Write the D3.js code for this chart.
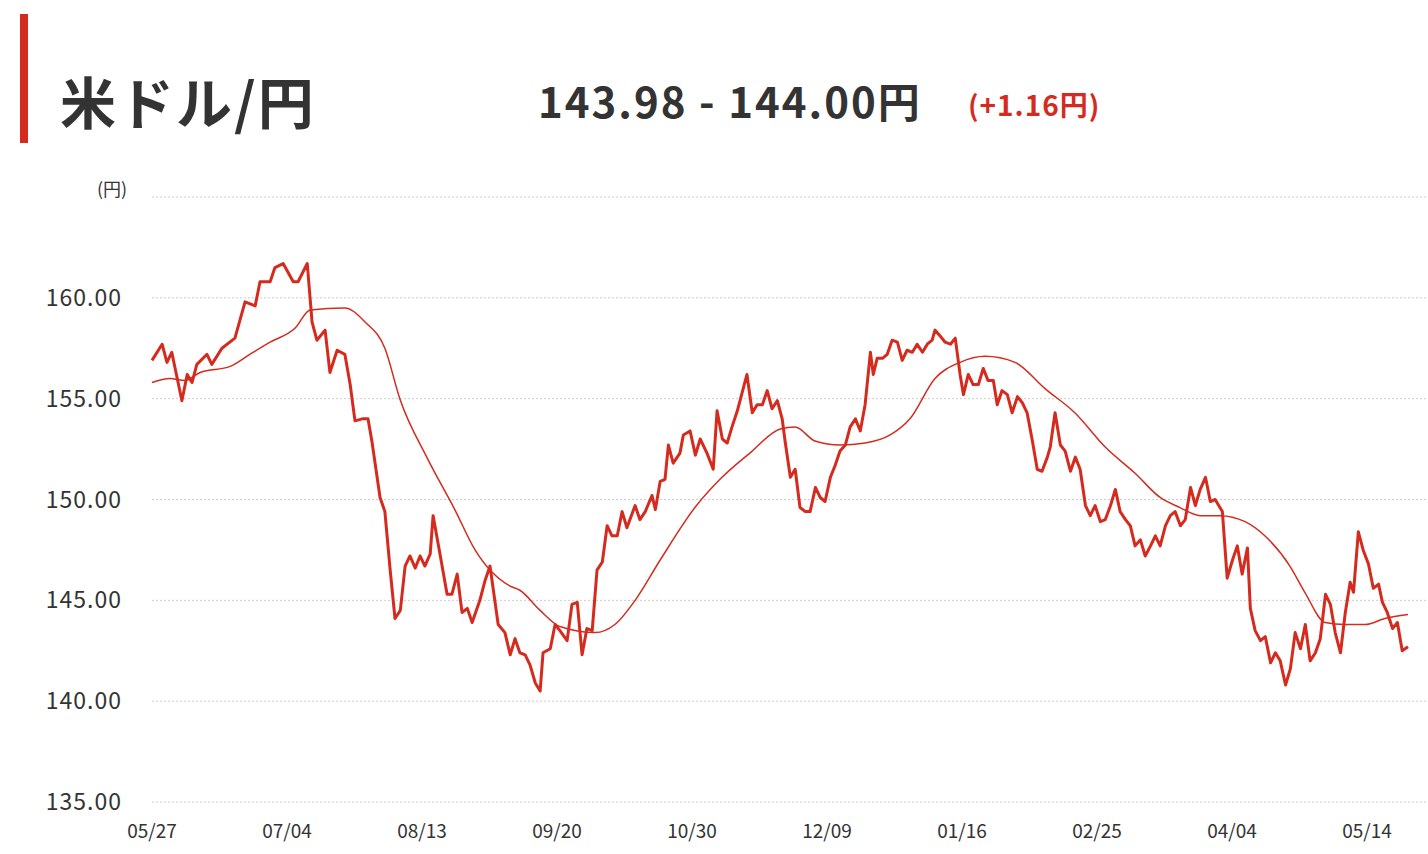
<!DOCTYPE html>
<html><head><meta charset="utf-8">
<script src="https://cdn.jsdelivr.net/npm/d3@7"></script>
<style>
body{margin:0;background:#fff;font-family:"Noto Sans CJK JP","Noto Sans",sans-serif;}
</style></head>
<body><div id="chart"></div>
<script>
// daily close: trading day position and value
const closeDays = [0,2.1,3.1,4.1,6.2,7.3,8.3,9.3,11.4,12.4,14.5,17.2,19.3,21.4,22.4,24.5,25.5,27.2,29.3,30.3,32.2,33.2,34.2,35.9,36.9,38.4,40.0,41.1,42.1,43.6,44.8,45.6,47.3,48.3,49.4,50.4,51.5,52.5,53.5,54.6,55.6,56.6,57.7,58.3,59.8,61.2,62.2,63.3,64.3,65.4,66.4,68.0,69.1,70.1,71.8,73.2,74.3,75.3,76.3,77.4,78.4,79.5,80.5,81.1,82.6,83.6,84.6,86.1,87.1,88.2,89.2,90.2,91.3,92.3,93.4,94.4,95.4,96.5,97.5,98.5,100.2,101.2,102.3,103.7,104.4,105.4,106.4,107.1,108.1,109.5,110.2,111.6,112.7,113.7,115.1,116.4,117.2,118.3,119.3,120.3,121.4,122.4,123.4,124.5,125.5,126.6,127.6,128.6,129.7,130.7,131.3,132.4,133.4,134.4,135.5,136.5,137.6,138.6,139.6,140.7,141.7,142.7,143.8,144.8,145.9,146.9,147.9,149.0,149.6,150.4,151.5,152.5,153.5,154.6,155.6,156.6,157.7,158.7,159.8,160.8,161.8,162.4,163.5,164.5,165.6,166.6,167.6,168.3,169.3,170.3,171.4,172.4,173.4,174.5,175.3,176.3,177.4,178.4,179.5,180.5,181.5,182.6,183.6,184.6,185.7,186.3,187.3,188.4,189.4,190.5,191.5,192.5,193.6,194.6,195.6,196.7,197.7,198.8,199.8,200.8,201.9,202.9,203.9,205.0,206.0,207.1,208.1,209.1,210.2,211.2,212.2,213.3,214.3,215.4,216.4,217.4,218.5,219.5,220.5,222.0,223.0,224.1,225.1,226.1,227.2,227.8,228.8,229.9,230.9,232.0,233.0,234.0,235.1,236.1,237.1,238.2,239.2,240.2,241.3,242.3,243.4,244.4,245.4,246.5,247.5,248.5,249.2,250.2,251.2,252.3,253.3,254.4,255.2,256.2,257.3,258.3,259.3,260.5];
const closes = [156.9,157.7,156.8,157.3,154.9,156.2,155.8,156.7,157.2,156.7,157.5,158.0,159.8,159.6,160.8,160.8,161.5,161.7,160.8,160.8,161.7,158.8,157.9,158.4,156.3,157.4,157.2,155.7,153.9,154.0,154.0,152.9,150.1,149.4,146.5,144.1,144.5,146.7,147.2,146.6,147.2,146.7,147.3,149.2,147.2,145.3,145.3,146.3,144.4,144.6,143.9,145.0,146.0,146.7,143.8,143.4,142.3,143.1,142.4,142.3,141.8,140.9,140.5,142.4,142.6,143.8,143.5,143.0,144.8,144.9,142.3,143.6,143.5,146.5,146.9,148.7,148.2,148.2,149.4,148.6,149.7,149.0,149.4,150.2,149.5,150.9,151.0,152.7,151.8,152.3,153.2,153.4,152.2,153.0,152.3,151.5,154.4,153.0,152.8,153.6,154.4,155.3,156.2,154.3,154.7,154.7,155.4,154.5,154.9,154.0,152.9,151.1,151.5,149.6,149.4,149.4,150.6,150.1,149.9,151.1,151.7,152.4,152.7,153.6,154.0,153.4,154.7,157.3,156.2,157.0,157.0,157.2,157.9,157.8,156.9,157.4,157.3,157.7,157.3,157.7,157.9,158.4,158.1,157.8,157.7,158.0,156.2,155.2,156.2,155.7,155.7,156.5,155.9,155.9,154.7,155.4,155.2,154.3,155.1,154.8,154.3,152.9,151.5,151.4,152.1,152.6,154.3,152.7,152.4,151.4,152.1,151.5,149.7,149.2,149.7,148.9,149.0,149.7,150.5,149.4,149.0,148.7,147.7,148.0,147.2,147.7,148.2,147.7,148.7,149.2,149.4,148.7,149.0,150.6,149.7,150.5,151.1,149.9,150.0,149.4,146.1,147.0,147.7,146.3,147.6,144.6,143.5,143.0,143.2,141.9,142.4,142.0,140.8,141.6,143.4,142.6,143.8,142.0,142.4,143.1,145.3,144.8,143.4,142.4,144.4,145.9,145.4,148.4,147.5,146.8,145.6,145.8,144.9,144.4,143.6,143.9,142.5,142.7];
// moving average: trading day position and value
const maDays = [0,3.7,6.8,10,16.2,20.3,24.5,29.7,32.8,40,44.2,48.3,51.4,57.2,62.8,67,74.3,76.3,80.5,84.6,91.9,96,100.2,105.4,112.6,117.8,124,130.3,133.4,137.5,142.7,147.9,153.1,157.2,162.4,167.6,172.8,179,185.2,191.4,197.7,203.9,209.1,213.2,217.4,221.5,226.7,230.8,236,239.1,243.3,247.4,251.6,255.7,260.5];
const maVals = [155.8,156.0,155.9,156.3,156.6,157.2,157.8,158.5,159.4,159.5,158.8,157.5,155.0,152.0,149.5,147.5,145.7,145.5,144.5,143.7,143.4,143.8,145.0,147.0,149.6,151.0,152.3,153.5,153.6,152.9,152.7,152.8,153.2,154.0,156.0,156.8,157.1,156.8,155.5,154.3,152.6,151.3,150.1,149.6,149.2,149.2,148.9,148.2,146.7,145.4,143.9,143.8,143.8,144.1,144.3];
const tickLabels = ["05/27","07/04","08/13","09/20","10/30","12/09","01/16","02/25","04/04","05/14"];
const yTicks = [135,140,145,150,155,160,165];
const totalDays = 260.5;

const W = 1428, H = 854, red = "#d52b1e";
const svg = d3.select("#chart").append("svg").attr("width", W).attr("height", H);

// header
svg.append("rect").attr("x", 20).attr("y", 14).attr("width", 8).attr("height", 129).attr("fill", red);
svg.append("text").attr("x", 60).attr("y", 124).attr("font-size", 56).attr("font-weight", "bold").attr("fill", "#333")
   .attr("letter-spacing", 2).text("米ドル/円");
svg.append("text").attr("x", 538).attr("y", 118).attr("font-size", 42).attr("font-weight", "bold").attr("fill", "#333")
   .attr("letter-spacing", 2).text("143.98 - 144.00円");
svg.append("text").attr("x", 968).attr("y", 116).attr("font-size", 28).attr("font-weight", "bold").attr("fill", red)
   .attr("letter-spacing", 1).text("(+1.16円)");

const x = d3.scaleLinear().domain([0, totalDays]).range([152, 1408]);
const y = d3.scaleLinear().domain([135, 165]).range([802, 197]);

// grid + y labels
yTicks.forEach(t => {
  svg.append("line").attr("x1", 152).attr("x2", W).attr("y1", y(t)).attr("y2", y(t))
     .attr("stroke", "#ccc").attr("stroke-dasharray", "2,2");
  if (t < 165)
    svg.append("text").attr("x", 122).attr("y", y(t) + 8).attr("text-anchor", "end")
       .attr("font-size", 23).attr("fill", "#333").attr("letter-spacing", 1).text(t.toFixed(2));
});
svg.append("text").attr("x", 112).attr("y", 196).attr("text-anchor", "middle").attr("font-size", 18).attr("fill", "#333").text("(円)");

tickLabels.forEach((lab, i) => {
  svg.append("text").attr("x", x(i * 28)).attr("y", 838).attr("text-anchor", "middle")
     .attr("font-size", 19).attr("fill", "#333").text(lab);
});

// moving average
const ma = maDays.map((d, i) => [d, maVals[i]]);
svg.append("path").datum(ma)
   .attr("d", d3.line().x(d => x(d[0])).y(d => y(d[1])).curve(d3.curveMonotoneX))
   .attr("fill", "none").attr("stroke", red).attr("stroke-width", 1.5);

// price line
const pts = closeDays.map((d, i) => [d, closes[i]]);
svg.append("path").datum(pts)
   .attr("d", d3.line().x(d => x(d[0])).y(d => y(d[1])))
   .attr("fill", "none").attr("stroke", red).attr("stroke-width", 3).attr("stroke-linejoin", "round");
</script></body></html>
